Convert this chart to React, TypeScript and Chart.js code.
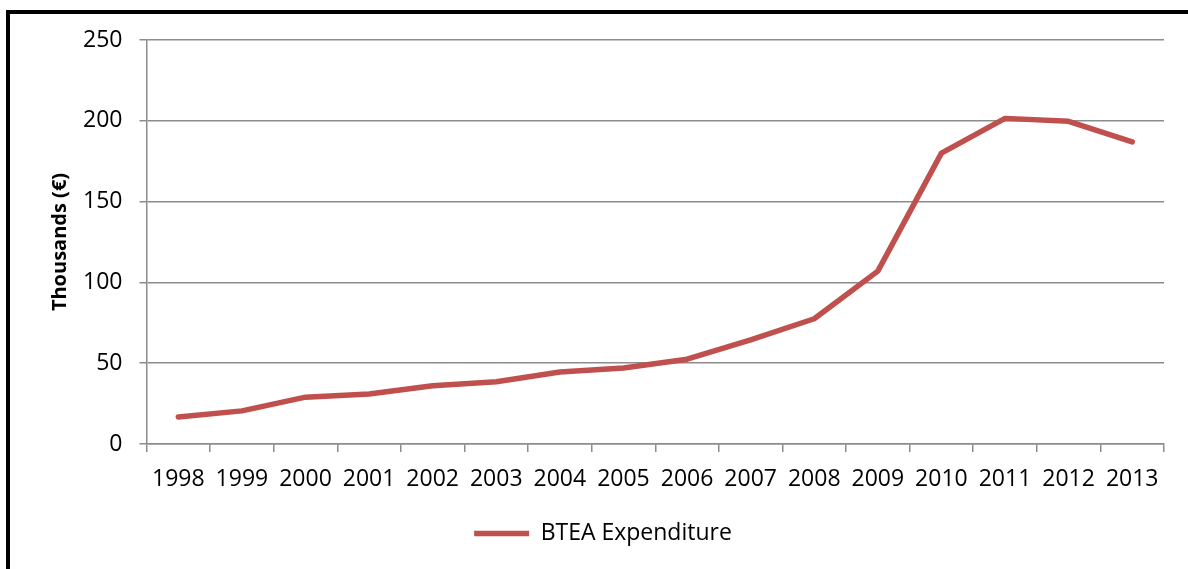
import React, { useEffect, useRef } from "react";
import { Chart, registerables } from "chart.js";

Chart.register(...registerables);

const years = ["1998", "1999", "2000", "2001", "2002", "2003", "2004", "2005", "2006", "2007", "2008", "2009", "2010", "2011", "2012", "2013"];
const expenditure = [16.7, 20.5, 29, 31, 36, 38.5, 44.5, 47, 52.5, 64.5, 77.5, 107, 180, 201.5, 199.7, 187];
const seriesLabel = "BTEA Expenditure";
const yTitle = "Thousands (€)";

const FONT = "'Open Sans', 'Noto Sans', sans-serif";
const GRID = "#8c8c8c";

export default function App() {
  const ref = useRef<HTMLCanvasElement | null>(null);

  useEffect(() => {
    if (!ref.current) return;
    const chart = new Chart(ref.current, {
      type: "line",
      data: {
        labels: years,
        datasets: [
          {
            label: seriesLabel,
            data: expenditure,
            borderColor: "#C0504D",
            backgroundColor: "#C0504D",
            borderWidth: 5.5,
            borderCapStyle: "round",
            borderJoinStyle: "round",
            pointRadius: 0,
            pointHoverRadius: 0,
            tension: 0,
          },
        ],
      },
      options: {
        responsive: false,
        animation: false,
        layout: { padding: { top: 26, right: 24, left: 32, bottom: 14 } },
        plugins: {
          tooltip: { enabled: false },
          legend: {
            position: "bottom",
            labels: {
              usePointStyle: true,
              pointStyle: "line",
              pointStyleWidth: 55,
              padding: 10,
              color: "#000",
              font: { family: FONT, size: 23 },
            },
          },
        },
        scales: {
          x: {
            offset: true,
            grid: {
              offset: true,
              drawOnChartArea: false,
              drawTicks: true,
              tickLength: 8,
              color: GRID,
              lineWidth: 1.5,
            },
            border: { color: GRID, width: 1.5 },
            ticks: {
              color: "#000",
              padding: 14,
              maxRotation: 0,
              autoSkip: false,
              font: { family: FONT, size: 23 },
            },
            afterFit: (s: any) => {
              s.height = 68;
              s.paddingLeft = 0;
              s.paddingRight = 0;
            },
          },
          y: {
            min: 0,
            max: 250,
            ticks: {
              stepSize: 50,
              color: "#000",
              padding: 17,
              font: { family: FONT, size: 23 },
            },
            grid: {
              color: GRID,
              lineWidth: 1.5,
              tickLength: 7,
            },
            border: { color: GRID, width: 1.5 },
            title: {
              display: true,
              text: yTitle,
              color: "#000",
              padding: { top: 6, bottom: 0 },
              font: { family: FONT, size: 20, weight: "bold" },
            },
            afterFit: (s: any) => {
              s.width = 104.5;
              s.paddingTop = 0;
              s.paddingBottom = 0;
            },
          },
        },
      },
    });
    return () => chart.destroy();
  }, []);

  return (
    <div
      style={{
        position: "fixed",
        left: 6,
        top: 10,
        width: 1182,
        height: 559,
        borderLeft: "4px solid #000",
        borderTop: "4px solid #000",
        background: "#fff",
        boxSizing: "border-box",
      }}
    >
      <canvas ref={ref} width={1178} height={555} style={{ display: "block" }} />
    </div>
  );
}
